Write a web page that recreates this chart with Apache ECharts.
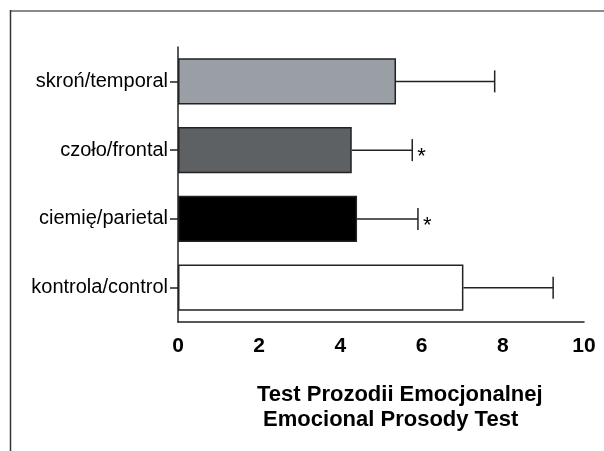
<!DOCTYPE html>
<html>
<head>
<meta charset="utf-8">
<script src="https://cdn.jsdelivr.net/npm/echarts@6/dist/echarts.min.js"></script>
<style>
html,body{margin:0;padding:0;background:#fff;}
#c{width:604px;height:451px;}
</style>
</head>
<body>
<div id="c"></div>
<script>
const categories = ['skroń/temporal', 'czoło/frontal', 'ciemię/parietal', 'kontrola/control'];
const means = [5.37, 4.28, 4.41, 7.03];
const errors = [2.43, 1.49, 1.50, 2.21];
const stars = ['', '*', '*', ''];
const barColors = ['#9a9ea5', '#5d6164', '#000000', '#ffffff'];
const xTicks = [0, 2, 4, 6, 8, 10];
const titleLines = ['Test Prozodii Emocjonalnej', ' Emocional Prosody Test'];

const FONT = '"Liberation Sans", Arial, sans-serif';
const chart = echarts.init(document.getElementById('c'), null, {renderer: 'canvas'});

const errData = means.map((m, i) => [m, i, errors[i], stars[i]]);

chart.setOption({
  animation: false,
  backgroundColor: '#ffffff',
  title: {
    text: titleLines.join('\n'),
    left: 252,
    top: 377,
    textStyle: {fontFamily: FONT, fontSize: 22, fontWeight: 'bold', color: '#000', lineHeight: 25}
  },
  grid: {left: 178, right: 20, top: 47, bottom: 129, containLabel: false},
  xAxis: {
    type: 'value',
    min: xTicks[0],
    max: xTicks[xTicks.length - 1],
    interval: xTicks[1] - xTicks[0],
    splitLine: {show: false},
    axisTick: {show: false},
    axisLine: {show: true, lineStyle: {color: '#222', width: 1.5}},
    axisLabel: {fontFamily: FONT, fontSize: 21, fontWeight: 'bold', color: '#000', margin: 14}
  },
  yAxis: {
    type: 'category',
    data: categories,
    inverse: true,
    axisLine: {show: true, lineStyle: {color: '#222', width: 1.5}},
    axisTick: {show: true, alignWithLabel: true, length: 8, lineStyle: {color: '#222', width: 1.5}},
    axisLabel: {fontFamily: FONT, fontSize: 20, color: '#000', margin: 10}
  },
  series: [
    {
      type: 'bar',
      data: means.map((m, i) => ({value: m, itemStyle: {color: barColors[i]}})),
      barCategoryGap: '33%',
      itemStyle: {borderColor: '#222', borderWidth: 1.5},
      z: 2
    },
    {
      type: 'custom',
      data: errData,
      z: 3,
      renderItem: function (params, api) {
        const m = api.value(0);
        const idx = api.value(1);
        const e = api.value(2);
        const s = stars[params.dataIndex];
        const p0 = api.coord([m, idx]);
        const p1 = api.coord([m + e, idx]);
        const half = 11;
        const children = [
          {type: 'line', shape: {x1: p0[0], y1: p0[1], x2: p1[0], y2: p1[1]}, style: {stroke: '#222', lineWidth: 1.5}},
          {type: 'line', shape: {x1: p1[0], y1: p1[1] - half, x2: p1[0], y2: p1[1] + half}, style: {stroke: '#222', lineWidth: 1.5}}
        ];
        if (s) {
          children.push({type: 'text', x: p1[0] + 5, y: p1[1] + 7,
            style: {text: s, fill: '#000', font: '22px ' + FONT, align: 'left', verticalAlign: 'middle'}});
        }
        return {type: 'group', children: children};
      }
    }
  ],
  graphic: [
    {type: 'line', shape: {x1: 10, y1: 11, x2: 604, y2: 11}, style: {stroke: '#8a8a8a', lineWidth: 2}},
    {type: 'line', shape: {x1: 10.5, y1: 10, x2: 10.5, y2: 451}, style: {stroke: '#333', lineWidth: 1.5}}
  ]
});
</script>
</body>
</html>
